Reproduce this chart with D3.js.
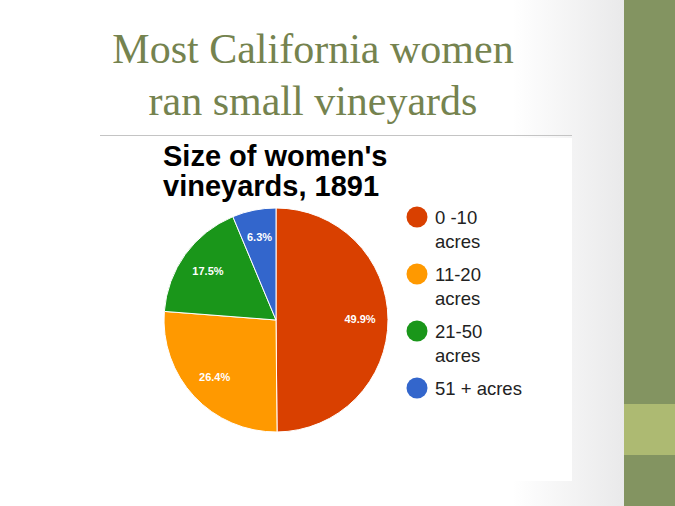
<!DOCTYPE html>
<html><head><meta charset="utf-8">
<script src="https://cdn.jsdelivr.net/npm/d3@7"></script>
<style>body{margin:0;background:#fff}svg{display:block}</style>
</head><body>
<script>
const categories = ["0 -10 acres", "11-20 acres", "21-50 acres", "51 + acres"];
const legendLines = [["0 -10","acres"],["11-20","acres"],["21-50","acres"],["51 + acres"]];
const values = [49.9, 26.4, 17.5, 6.3];
const colors = ["#d94000", "#ff9900", "#1a961a", "#3366cc"];
const slideTitle = ["Most California women", "ran small vineyards"];
const chartTitle = ["Size of women's", "vineyards, 1891"];

const W = 675, H = 506;
const svg = d3.select("body").append("svg").attr("width", W).attr("height", H);
const defs = svg.append("defs");
const g1 = defs.append("linearGradient").attr("id","bg").attr("x1","0").attr("x2","1").attr("y1","0").attr("y2","0");
g1.append("stop").attr("offset","0.82").attr("stop-color","#ffffff");
g1.append("stop").attr("offset","1").attr("stop-color","#e9e9ea");
svg.append("rect").attr("width", 625).attr("height", H).attr("fill","url(#bg)");
// white chart image area
svg.append("rect").attr("x",0).attr("y",138).attr("width",572).attr("height",343).attr("fill","#fff");
// right bar
svg.append("rect").attr("x",624).attr("y",0).attr("width",51).attr("height",H).attr("fill","#839461");
svg.append("rect").attr("x",624).attr("y",404).attr("width",51).attr("height",51).attr("fill","#adba72");

// slide title
svg.append("g").selectAll("text").data(slideTitle).join("text")
  .attr("x", 313).attr("y",(d,i)=>63+i*52)
  .attr("text-anchor","middle")
  .attr("font-family","'Liberation Serif', serif")
  .attr("font-size",42).attr("fill","#75834f")
  .text(d=>d);
svg.append("line").attr("x1",100).attr("x2",572).attr("y1",135.5).attr("y2",135.5).attr("stroke","#c4c4c4").attr("stroke-width",1);

// chart title
svg.append("g").selectAll("text").data(chartTitle).join("text")
  .attr("x",163).attr("y",(d,i)=>166+i*29.5)
  .attr("font-family","'Liberation Sans', Arial, sans-serif")
  .attr("font-weight","bold").attr("font-size",29).attr("fill","#000")
  .text(d=>d);

// pie
const cx = 276, cy = 320, r = 112;
const pie = d3.pie().sort(null).value(d=>d);
const arc = d3.arc().innerRadius(0).outerRadius(r);
const labelArc = d3.arc().innerRadius(r*0.75).outerRadius(r*0.75);
const pg = svg.append("g").attr("transform",`translate(${cx},${cy})`);
const arcs = pie(values);
pg.selectAll("path").data(arcs).join("path")
  .attr("d",arc).attr("fill",(d,i)=>colors[i])
  .attr("stroke","#fff").attr("stroke-width",1);
pg.selectAll("text").data(arcs).join("text")
  .attr("transform",d=>`translate(${labelArc.centroid(d)})`)
  .attr("text-anchor","middle").attr("dy","0.35em")
  .attr("font-family","'Liberation Sans', Arial, sans-serif")
  .attr("font-size",11).attr("font-weight","bold").attr("fill","#fff")
  .text(d=>d.data.toFixed(1)+"%");

// legend
const lg = svg.append("g");
const items = lg.selectAll("g").data(categories).join("g")
  .attr("transform",(d,i)=>`translate(417,${217+i*57})`);
items.append("circle").attr("r",10.5).attr("fill",(d,i)=>colors[i]);
items.each(function(d,i){
  d3.select(this).selectAll("text").data(legendLines[i]).join("text")
    .attr("x",18).attr("y",(t,j)=>6.5+j*24)
    .attr("font-family","'Liberation Sans', Arial, sans-serif")
    .attr("font-size",18.5).attr("fill","#222")
    .text(t=>t);
});
</script>
</body></html>
